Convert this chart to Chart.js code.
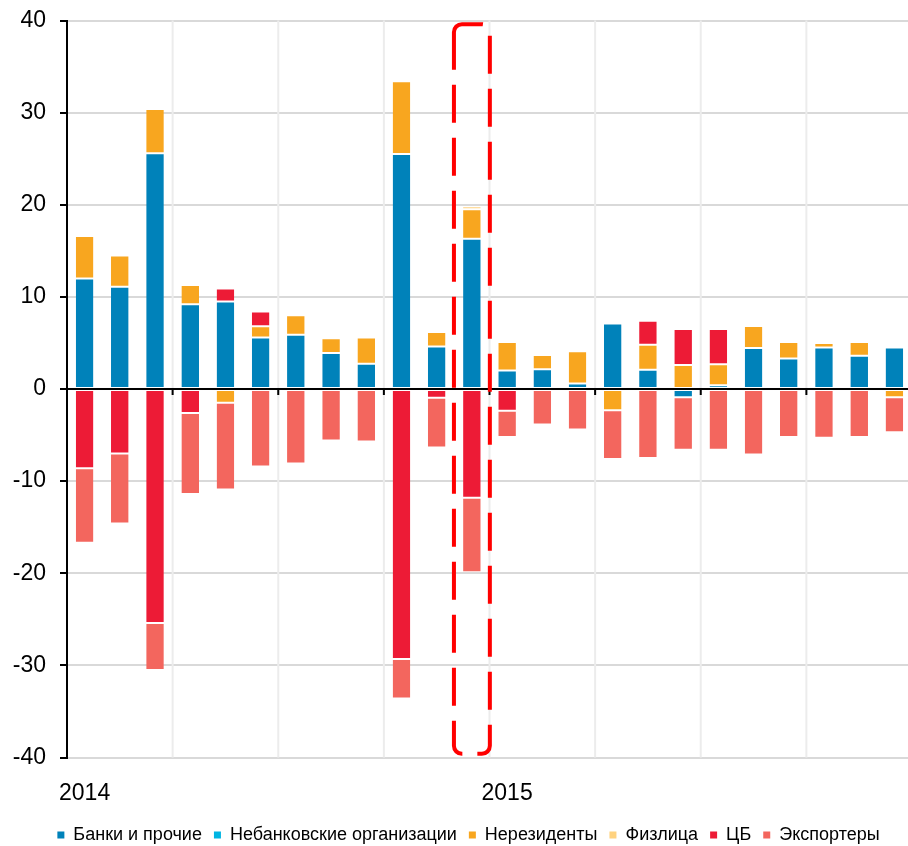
<!DOCTYPE html>
<html lang="ru">
<head>
<meta charset="utf-8">
<title>Чистые продажи валюты, 2014–2015</title>
<script src="https://cdn.jsdelivr.net/npm/chart.js@4.4.1/dist/chart.umd.min.js"></script>
<style>
  html, body { margin: 0; padding: 0; background: #fff; overflow: hidden; }
  #wrap { width: 912px; height: 854px; position: relative; }
</style>
</head>
<body>
<div id="wrap"><canvas id="chart"></canvas></div>
<script>
// months, Jan 2014 .. Dec 2015
const months = [
    '2014-01', '2014-02', '2014-03', '2014-04', '2014-05', '2014-06',
    '2014-07', '2014-08', '2014-09', '2014-10', '2014-11', '2014-12',
    '2015-01', '2015-02', '2015-03', '2015-04', '2015-05', '2015-06',
    '2015-07', '2015-08', '2015-09', '2015-10', '2015-11', '2015-12',
];

const seriesNames = ['Банки и прочие', 'Небанковские организации', 'Нерезиденты', 'Физлица', 'ЦБ', 'Экспортеры'];

const banks     = [12.0, 11.1, 25.6, 9.2, 9.5, 5.6, 5.9, 3.9, 2.75, 25.5, 4.6, 16.3, 2.0, 2.15, 0.6, 7.1, 2.1, -0.9, 0.4, 4.45, 3.3, 4.5, 3.6, 4.5];
const nonBank   = [0, 0, 0, 0, 0, 0, 0, 0, 0, 0, 0, 0, 0, 0, 0, 0, 0, 0, 0, 0, 0, 0, 0, 0];
const nonRes    = [4.6, 3.4, 4.8, 2.1, -1.5, 1.2, 2.1, 1.6, 2.85, 7.9, 1.6, 3.2, 3.1, 1.55, 3.5, -2.3, 2.7, 2.6, 2.3, 2.4, 1.8, 0.5, 1.5, -0.9];
const persons   = [0, 0, 0, 0, 0, 0, 0, 0, 0, 0, 0, 0.35, 0, 0, 0, 0, 0, 0, 0, 0, 0, 0, 0, 0];
const cbr       = [-8.6, -7.0, -25.4, -2.6, 1.4, 1.6, 0, 0, 0, -29.3, -0.95, -11.8, -2.35, 0, 0, 0, 2.6, 3.9, 3.8, 0, 0, 0, 0, 0];
const exporters = [-8.1, -7.6, -5.1, -8.8, -9.4, -8.4, -8.1, -5.6, -5.7, -4.3, -5.4, -8.1, -2.85, -3.85, -4.4, -5.3, -7.5, -5.7, -6.6, -7.1, -5.2, -5.3, -5.2, -3.8];

const yTicks = [-40, -30, -20, -10, 0, 10, 20, 30, 40];

const colors = ['#0082ba', '#00b5e3', '#f8a61f', '#ffd27f', '#ed1b36', '#f3665e'];
const seriesValues = [banks, nonBank, nonRes, persons, cbr, exporters];

// month that gets the dashed frame
const focusIndex = 11;

Chart.defaults.font.family = '"Liberation Sans", Arial, sans-serif';
Chart.defaults.color = '#000';

// quarter separators, zero line with its ticks, dashed frame
const guides = {
    id: 'guides',
    afterLayout(chart) {
        // legend row sits a little right of the canvas centre
        chart.legend.left += 12.5;
        chart.legend.right += 12.5;
    },
    beforeDatasetsDraw(chart) {
        const { ctx, chartArea: a, scales: { x } } = chart;
        ctx.save();
        ctx.strokeStyle = '#ececec';
        ctx.lineWidth = 2;
        for (let i = 3; i < months.length; i += 3) {
            const px = (x.getPixelForValue(i - 1) + x.getPixelForValue(i)) / 2;
            ctx.beginPath();
            ctx.moveTo(px, a.top);
            ctx.lineTo(px, a.bottom);
            ctx.stroke();
        }
        ctx.restore();
    },
    afterDatasetsDraw(chart) {
        const { ctx, chartArea: a, scales: { x, y } } = chart;
        const y0 = y.getPixelForValue(0);
        ctx.save();
        ctx.strokeStyle = '#000';
        ctx.lineWidth = 2;
        ctx.beginPath();
        ctx.moveTo(a.left, y0);
        ctx.lineTo(a.right, y0);
        for (let i = 3; i < months.length; i += 3) {
            const px = (x.getPixelForValue(i - 1) + x.getPixelForValue(i)) / 2;
            ctx.moveTo(px, y0);
            ctx.lineTo(px, y0 + 6);
        }
        ctx.stroke();

        // dashed rounded frame around the focus month
        const cw = x.getPixelForValue(1) - x.getPixelForValue(0);
        const cx = x.getPixelForValue(focusIndex);
        const l = cx - cw * 0.51, r = cx + cw * 0.51;
        const t = y.getPixelForValue(39.6), b = y.getPixelForValue(-39.6);
        const rad = 8;
        ctx.strokeStyle = '#ff0000';
        ctx.lineWidth = 4;
        ctx.setLineDash([38, 15]);
        ctx.beginPath();
        ctx.moveTo(l, t + rad + 4.5);
        ctx.lineTo(l, t + rad);
        ctx.arcTo(l, t, l + rad, t, rad);
        ctx.lineTo(r - rad, t);
        ctx.arcTo(r, t, r, t + rad, rad);
        ctx.lineTo(r, b - rad);
        ctx.arcTo(r, b, r - rad, b, rad);
        ctx.lineTo(l + rad, b);
        ctx.arcTo(l, b, l, b - rad, rad);
        ctx.lineTo(l, t + rad + 4.5);
        ctx.stroke();
        ctx.restore();
    }
};

const datasets = seriesNames.map((name, i) => ({
    label: name,
    data: seriesValues[i],
    backgroundColor: colors[i],
    borderColor: '#ffffff',
    borderWidth: { top: 1, bottom: 1, left: 0, right: 0 },
    borderSkipped: false,
    barPercentage: 0.5,
    categoryPercentage: 1.0,
}));

new Chart(document.getElementById('chart'), {
    type: 'bar',
    data: { labels: months, datasets },
    options: {
        responsive: true,
        maintainAspectRatio: false,
        animation: false,
        events: [],
        layout: { padding: { top: 20.5, left: 0, right: 0, bottom: 0 } },
        plugins: {
            tooltip: { enabled: false },
            legend: {
                position: 'bottom',
                labels: {
                    boxWidth: 7,
                    boxHeight: 7,
                    padding: 12,
                    color: '#000',
                    font: { size: 18 },
                    generateLabels: (chart) => chart.data.datasets.map((ds, i) => ({
                        text: ds.label,
                        fillStyle: ds.backgroundColor,
                        strokeStyle: ds.backgroundColor,
                        lineWidth: 0,
                        hidden: false,
                        datasetIndex: i,
                    })),
                },
            },
        },
        scales: {
            x: {
                stacked: true,
                grid: { display: false },
                border: { display: false },
                ticks: {
                    autoSkip: false,
                    maxRotation: 0,
                    padding: 14,
                    font: { size: 23 },
                    color: '#000',
                    callback: (v, i) => months[i].endsWith('-01') ? months[i].slice(0, 4) : '',
                },
                afterFit: (scale) => { scale.height = 56.5; },
            },
            y: {
                stacked: true,
                min: -40,
                max: 40,
                afterBuildTicks: (scale) => { scale.ticks = yTicks.map(v => ({ value: v })); },
                grid: {
                    color: '#d9d9d9',
                    lineWidth: 2,
                    tickColor: '#000',
                    tickLength: 7,
                    tickWidth: 2,
                },
                border: { color: '#000', width: 2 },
                ticks: {
                    padding: 14,
                    font: { size: 23 },
                    color: '#000',
                    callback: (v) => String(v),
                },
                afterFit: (scale) => {
                    scale.width = 67;
                    scale.paddingTop = 0;
                    scale.paddingBottom = 0;
                },
            },
        },
    },
    plugins: [guides],
});
</script>
</body>
</html>
